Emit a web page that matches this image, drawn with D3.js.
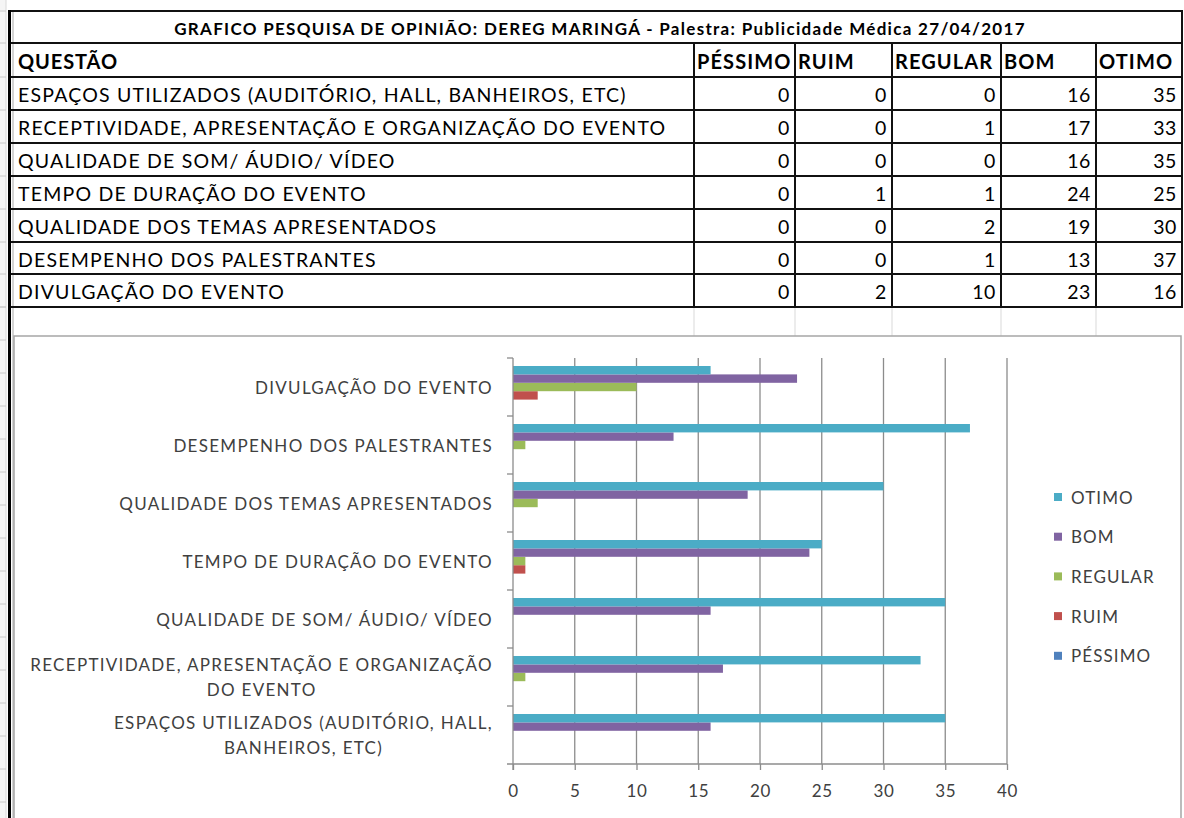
<!DOCTYPE html>
<html>
<head>
<meta charset="utf-8">
<script src="https://cdn.jsdelivr.net/npm/d3@7"></script>
<style>
body { margin: 0; background: #fff; }
svg { display: block; }
</style>
</head>
<body>
<div id="chart"></div>
<script>
// data from the sheet
var title = "GRAFICO PESQUISA DE OPINIÃO: DEREG MARINGÁ - Palestra: Publicidade Médica 27/04/2017";
var questions = [
  "ESPAÇOS UTILIZADOS (AUDITÓRIO, HALL, BANHEIROS, ETC)",
  "RECEPTIVIDADE, APRESENTAÇÃO E ORGANIZAÇÃO DO EVENTO",
  "QUALIDADE DE SOM/ ÁUDIO/ VÍDEO",
  "TEMPO DE DURAÇÃO DO EVENTO",
  "QUALIDADE DOS TEMAS APRESENTADOS",
  "DESEMPENHO DOS PALESTRANTES",
  "DIVULGAÇÃO DO EVENTO"
];
// wrapped labels used on the chart axis
var chartLabels = [
  ["ESPAÇOS UTILIZADOS (AUDITÓRIO, HALL,", "BANHEIROS, ETC)"],
  ["RECEPTIVIDADE, APRESENTAÇÃO E ORGANIZAÇÃO", "DO EVENTO"],
  ["QUALIDADE DE SOM/ ÁUDIO/ VÍDEO"],
  ["TEMPO DE DURAÇÃO DO EVENTO"],
  ["QUALIDADE DOS TEMAS APRESENTADOS"],
  ["DESEMPENHO DOS PALESTRANTES"],
  ["DIVULGAÇÃO DO EVENTO"]
];
var ratings = ["PÉSSIMO", "RUIM", "REGULAR", "BOM", "OTIMO"];
var pessimo = [0, 0, 0, 0, 0, 0, 0];
var ruim    = [0, 0, 0, 1, 0, 0, 2];
var regular = [0, 1, 0, 1, 2, 1, 10];
var bom     = [16, 17, 16, 24, 19, 13, 23];
var otimo   = [35, 33, 35, 25, 30, 37, 16];
var xTicks  = [0, 5, 10, 15, 20, 25, 30, 35, 40];

var series = [pessimo, ruim, regular, bom, otimo];
var colors = ["#4F81BD", "#C0504D", "#9BBB59", "#8064A2", "#4BACC6"];

var svgWidth = 1184, svgHeight = 818;
var font = "Lato, 'Open Sans', sans-serif";

var svg = d3.select("#chart").append("svg")
  .attr("width", svgWidth)
  .attr("height", svgHeight)
  .style("font-family", font);

// ---- sheet background bits (row header sliver, gridlines) ----
var rowLines = [11, 43, 77, 110, 143, 176, 209, 242, 274, 307];
var sliverRows = d3.range(307, svgHeight, 33);
svg.append("rect").attr("x", 0).attr("y", 0).attr("width", 6).attr("height", svgHeight).attr("fill", "#f5f5f5");
svg.append("line").attr("x1", 6).attr("x2", 6).attr("y1", 0).attr("y2", svgHeight).attr("stroke", "#d8d8d8");
svg.selectAll(".sliver").data(rowLines.concat(sliverRows)).enter().append("line")
  .attr("x1", 0).attr("x2", 6).attr("y1", d => d).attr("y2", d => d)
  .attr("stroke", "#c8c8c8");

// ---- table ----
var colX = [14, 694, 795, 892, 1001, 1096, 1182];
var tableLeft = 9, tableRight = 1182;
var tbl = svg.append("g");

// light gridlines of empty row under the table
tbl.selectAll(".grid").data(colX.slice(1, 6)).enter().append("line")
  .attr("x1", d => d).attr("x2", d => d).attr("y1", 307).attr("y2", 336)
  .attr("stroke", "#d9d9d9");
tbl.append("line").attr("x1", 13).attr("x2", 13).attr("y1", 11).attr("y2", svgHeight)
  .attr("stroke", "#c6c6c6").attr("stroke-width", 1.5);

// horizontal borders
tbl.selectAll(".hline").data(rowLines).enter().append("line")
  .attr("x1", tableLeft).attr("x2", tableRight + 1)
  .attr("y1", d => d).attr("y2", d => d)
  .attr("stroke", "#111").attr("stroke-width", 2);
// vertical borders (below title row)
tbl.selectAll(".vline").data(colX.slice(1)).enter().append("line")
  .attr("x1", d => d).attr("x2", d => d).attr("y1", 43).attr("y2", 307)
  .attr("stroke", "#111").attr("stroke-width", 2);
tbl.append("line").attr("x1", tableRight).attr("x2", tableRight).attr("y1", 11).attr("y2", 307)
  .attr("stroke", "#111").attr("stroke-width", 2);
// thick left edge
tbl.append("line").attr("x1", 9.5).attr("x2", 9.5).attr("y1", 10).attr("y2", svgHeight)
  .attr("stroke", "#000").attr("stroke-width", 3);

tbl.append("text")
  .attr("x", 600).attr("y", 28)
  .attr("text-anchor", "middle").attr("dominant-baseline", "central")
  .attr("font-weight", "bold").attr("font-size", "17px")
  .attr("letter-spacing", "1.3px")
  .text(title);

var headY = 61;
tbl.append("text").attr("x", 18).attr("y", headY).attr("dominant-baseline", "central")
  .attr("font-weight", "bold").attr("font-size", "20px").attr("letter-spacing", "0.9px")
  .text("QUESTÃO");
tbl.selectAll(".head").data(ratings).enter().append("text")
  .attr("x", (d, i) => colX[i + 1] + 3).attr("y", headY)
  .attr("dominant-baseline", "central")
  .attr("font-weight", "bold").attr("font-size", "20px").attr("letter-spacing", "1.1px")
  .text(d => d);

var rows = tbl.selectAll(".row").data(questions).enter().append("g")
  .attr("transform", (d, i) => `translate(0, ${(rowLines[i + 2] + rowLines[i + 3]) / 2 + 1})`);
rows.append("text").attr("x", 18).attr("dominant-baseline", "central")
  .attr("font-size", "19.5px").attr("letter-spacing", "1.2px").attr("fill", "#000")
  .text(d => d);
ratings.forEach(function(r, j) {
  rows.append("text")
    .attr("x", colX[j + 2] - 5)
    .attr("text-anchor", "end").attr("dominant-baseline", "central")
    .attr("font-size", "19.5px").attr("letter-spacing", "0.6px")
    .text((d, i) => series[j][i]);
});

// ---- chart ----
svg.append("rect").attr("x", 14).attr("y", 336).attr("width", 1167).attr("height", 500)
  .attr("fill", "#fff").attr("stroke", "#a6a6a6").attr("stroke-width", 1.5);

var plot = { left: 513, right: 1007, top: 358, bottom: 764 };

var xScale = d3.scaleLinear().domain([0, 40]).range([plot.left, plot.right]);
var yScale = d3.scaleBand()
  .domain(questions.slice().reverse())
  .range([plot.top, plot.bottom]);
var ySub = d3.scaleBand()
  .domain(ratings.slice().reverse())
  .range([8, yScale.bandwidth() - 8]);

var chartGroup = svg.append("g");

// vertical gridlines
chartGroup.selectAll(".gridx").data(xTicks.slice(1)).enter().append("line")
  .attr("x1", d => xScale(d)).attr("x2", d => xScale(d))
  .attr("y1", plot.top).attr("y2", plot.bottom)
  .attr("stroke", "#8c8c8c").attr("stroke-width", 1.3);

// bars
ratings.forEach(function(r, j) {
  chartGroup.selectAll(".bar" + j).data(questions).enter().append("rect")
    .attr("x", xScale(0))
    .attr("y", (d, i) => yScale(d) + ySub(r))
    .attr("width", (d, i) => xScale(series[j][i]) - xScale(0))
    .attr("height", ySub.bandwidth())
    .attr("fill", colors[j]);
});

// bottom axis
var bottomAxis = d3.axisBottom(xScale).tickValues(xTicks).tickSize(6).tickPadding(15);
var gx = chartGroup.append("g").attr("transform", `translate(0, ${plot.bottom})`).call(bottomAxis);
gx.select(".domain").attr("stroke", "#8c8c8c").attr("stroke-width", 1.3)
  .attr("d", `M${plot.left - 6},0H${plot.right}`);
gx.selectAll(".tick line").attr("stroke", "#8c8c8c").attr("stroke-width", 1.3);
gx.selectAll(".tick text").attr("font-family", font).attr("font-size", "17px")
  .attr("letter-spacing", "0.6px").attr("fill", "#404040");

// left axis with ticks on category boundaries
chartGroup.append("line")
  .attr("x1", plot.left).attr("x2", plot.left).attr("y1", plot.top).attr("y2", plot.bottom + 6)
  .attr("stroke", "#8c8c8c").attr("stroke-width", 1.3);
chartGroup.selectAll(".ytick").data(yScale.domain()).enter().append("line")
  .attr("x1", plot.left - 6).attr("x2", plot.left)
  .attr("y1", d => yScale(d)).attr("y2", d => yScale(d))
  .attr("stroke", "#8c8c8c").attr("stroke-width", 1.3);

// category labels (centered lines, right-aligned block)
var labelRight = 493;
questions.forEach(function(q, i) {
  var lines = chartLabels[i];
  var cy = yScale(q) + yScale.bandwidth() / 2;
  var lh = 25;
  var t = chartGroup.append("text")
    .attr("font-size", "17px").attr("fill", "#404040")
    .attr("letter-spacing", "1.3px")
    .attr("text-anchor", "middle");
  lines.forEach(function(l, k) {
    t.append("tspan").attr("dominant-baseline", "central")
      .attr("y", cy + (k - (lines.length - 1) / 2) * lh)
      .text(l);
  });
  var maxW = d3.max(t.selectAll("tspan").nodes(), n => n.getComputedTextLength());
  t.selectAll("tspan").attr("x", labelRight - maxW / 2);
});

// legend
var legendOrder = ratings.slice().reverse();
var legend = chartGroup.selectAll(".legend").data(legendOrder).enter().append("g")
  .attr("transform", (d, i) => `translate(1054, ${497 + i * 39.7})`);
legend.append("rect").attr("x", 0).attr("y", -4).attr("width", 8).attr("height", 8)
  .attr("fill", d => colors[ratings.indexOf(d)]);
legend.append("text").attr("x", 17).attr("dominant-baseline", "central")
  .attr("font-size", "17px").attr("fill", "#404040").attr("letter-spacing", "1.1px")
  .text(d => d);
</script>
</body>
</html>
